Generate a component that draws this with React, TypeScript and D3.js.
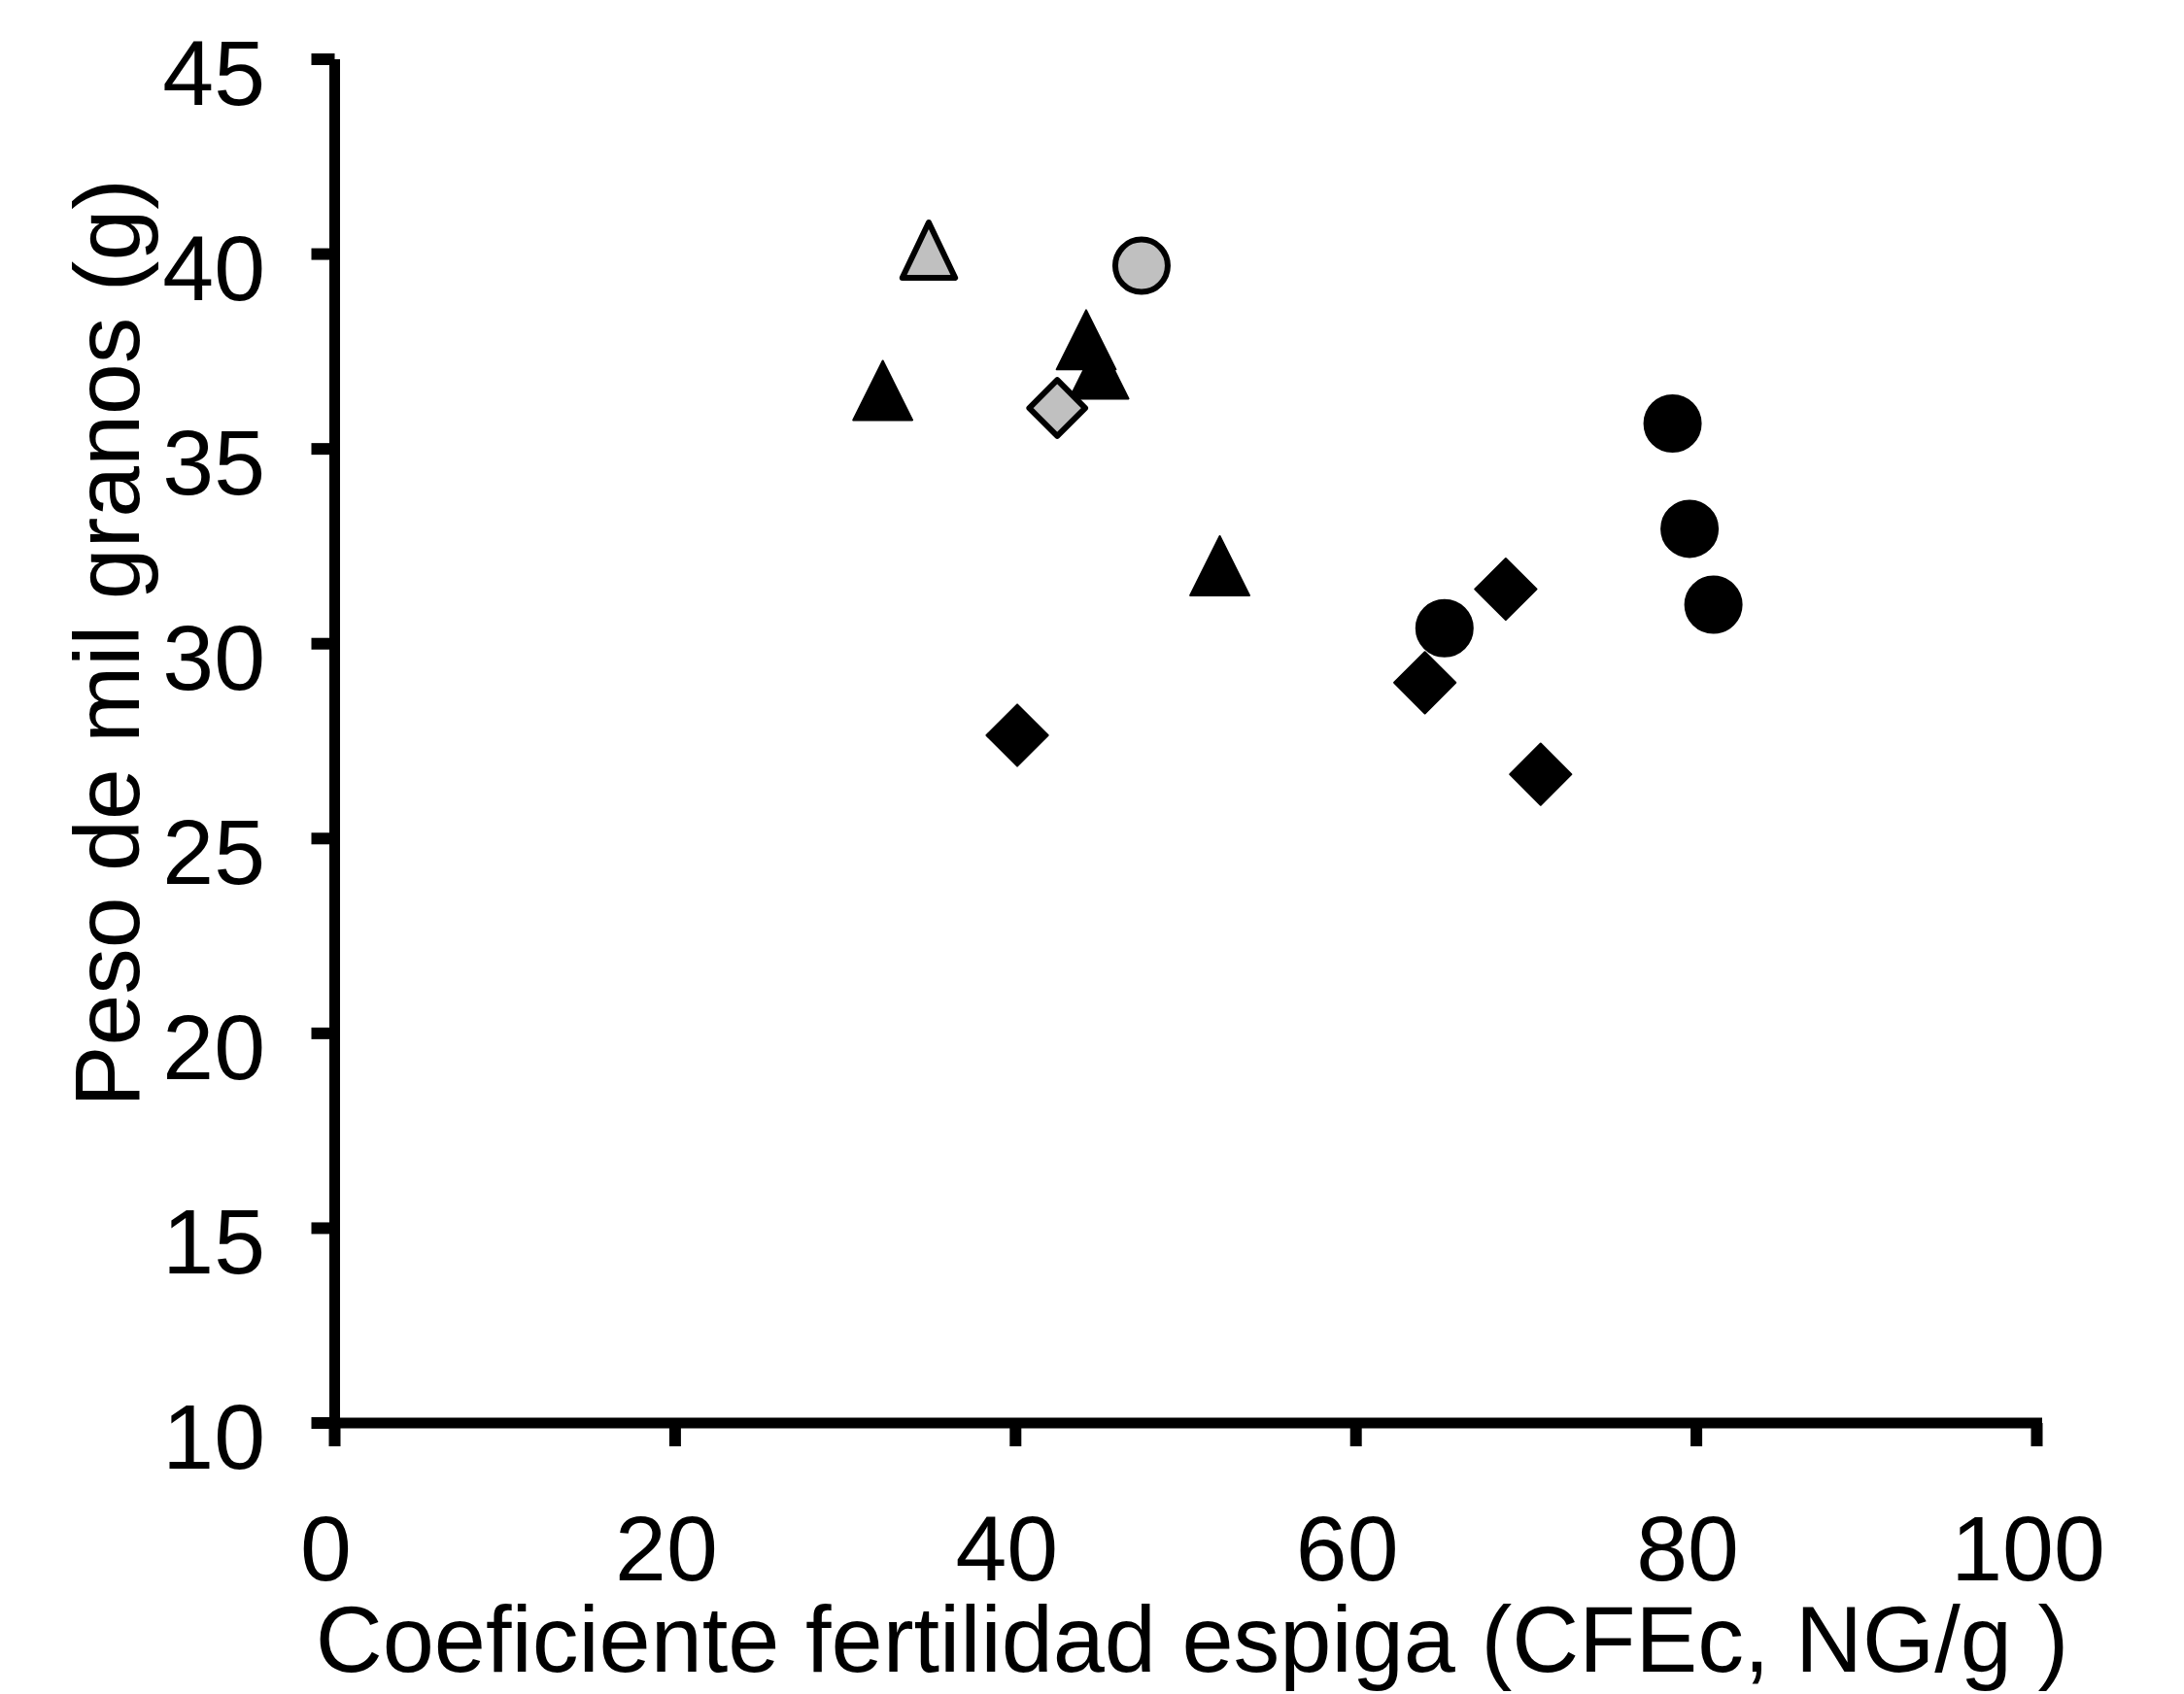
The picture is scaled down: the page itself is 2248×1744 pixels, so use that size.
import React from "react";
import * as d3 from "d3";

// x: CFEc (NG/g), y: peso de mil granos (g)
const blackTriangles = [
  { x: 32.2, y: 36.5 },
  { x: 44.15, y: 37.8 },
  { x: 44.9, y: 37.05 },
  { x: 52.0, y: 32.0 },
];
const blackCircles = [
  { x: 65.2, y: 30.4 },
  { x: 78.6, y: 35.65 },
  { x: 79.6, y: 32.95 },
  { x: 81.0, y: 31.0 },
];
const blackDiamonds = [
  { x: 40.1, y: 27.65 },
  { x: 64.05, y: 29.0 },
  { x: 68.8, y: 31.4 },
  { x: 70.85, y: 26.65 },
];
const grayTriangles = [{ x: 34.9, y: 40.1 }];
const grayDiamonds = [{ x: 42.45, y: 36.05 }];
const grayCircles = [{ x: 47.4, y: 39.7 }];

const xTicks = [0, 20, 40, 60, 80, 100];
const yTicks = [10, 15, 20, 25, 30, 35, 40, 45];

const xTitle = "Coeficiente fertilidad espiga (CFEc, NG/g )";
const yTitle = "Peso de mil granos (g)";

const W = 2248;
const H = 1744;
const FONT = "'Liberation Sans', Arial, Helvetica, sans-serif";

const x = d3.scaleLinear().domain([0, 100]).range([344.5, 2096.5]);
const y = d3.scaleLinear().domain([10, 45]).range([1465, 61]);

const triPath = (hw: number, hh: number) => `M0,${-hh}L${hw},${hh}L${-hw},${hh}Z`;
const diaPath = (h: number) => `M0,${-h}L${h},0L0,${h}L${-h},0Z`;

type Pt = { x: number; y: number };

function Markers({ data, shape, gray }: { data: Pt[]; shape: string; gray?: boolean }) {
  const fill = gray ? "#c0c0c0" : "#000";
  const sw = gray ? 6 : 2;
  const inset = gray ? 3 : 1;
  return (
    <g>
      {data.map((d, i) => {
        const cx = x(d.x);
        const cy = y(d.y);
        if (shape === "circle")
          return <circle key={i} cx={cx} cy={cy} r={30 - inset} fill={fill} stroke="#000" strokeWidth={sw} />;
        const p = shape === "triangle" ? triPath(32 - inset * 1.6, 31.5 - inset) : diaPath(33 - inset * 1.4);
        return (
          <path key={i} d={p} transform={`translate(${cx},${cy})`} fill={fill} stroke="#000" strokeWidth={sw} strokeLinejoin="round" />
        );
      })}
    </g>
  );
}

export default function App() {
  const lw = 11;
  return (
    <div style={{ position: "absolute", left: 0, top: 0, background: "#fff" }}>
      <svg width={W} height={H} style={{ display: "block" }}>
        <rect width={W} height={H} fill="#fff" />
        {/* axes */}
        <line x1={x(0)} x2={x(0)} y1={y(45)} y2={y(10) + lw / 2} stroke="#000" strokeWidth={lw} />
        <line x1={x(0) - lw / 2} x2={x(100) + lw / 2} y1={y(10)} y2={y(10)} stroke="#000" strokeWidth={lw} />
        {yTicks.map((t) => (
          <g key={t}>
            <line x1={x(0) - 24} x2={x(0)} y1={y(t)} y2={y(t)} stroke="#000" strokeWidth={12} />
            <text x={273} y={y(t) + 47} textAnchor="end" fontFamily={FONT} fontSize={95} fill="#000">
              {t}
            </text>
          </g>
        ))}
        {xTicks.map((t) => (
          <g key={t}>
            <line x1={x(t)} x2={x(t)} y1={y(10)} y2={y(10) + 24} stroke="#000" strokeWidth={12} />
            <text x={x(t) - 9} y={1627} textAnchor="middle" fontFamily={FONT} fontSize={95} fill="#000">
              {t}
            </text>
          </g>
        ))}
        <text x={1227} y={1721} textAnchor="middle" fontFamily={FONT} fontSize={95.5} fill="#000">
          {xTitle}
        </text>
        <text transform={`translate(143,662) rotate(-90)`} textAnchor="middle" fontFamily={FONT} fontSize={95} fill="#000">
          {yTitle}
        </text>
        {/* markers */}
        <Markers data={blackTriangles} shape="triangle" />
        <Markers data={blackCircles} shape="circle" />
        <Markers data={blackDiamonds} shape="diamond" />
        <Markers data={grayTriangles} shape="triangle" gray />
        <Markers data={grayDiamonds} shape="diamond" gray />
        <Markers data={grayCircles} shape="circle" gray />
      </svg>
    </div>
  );
}
